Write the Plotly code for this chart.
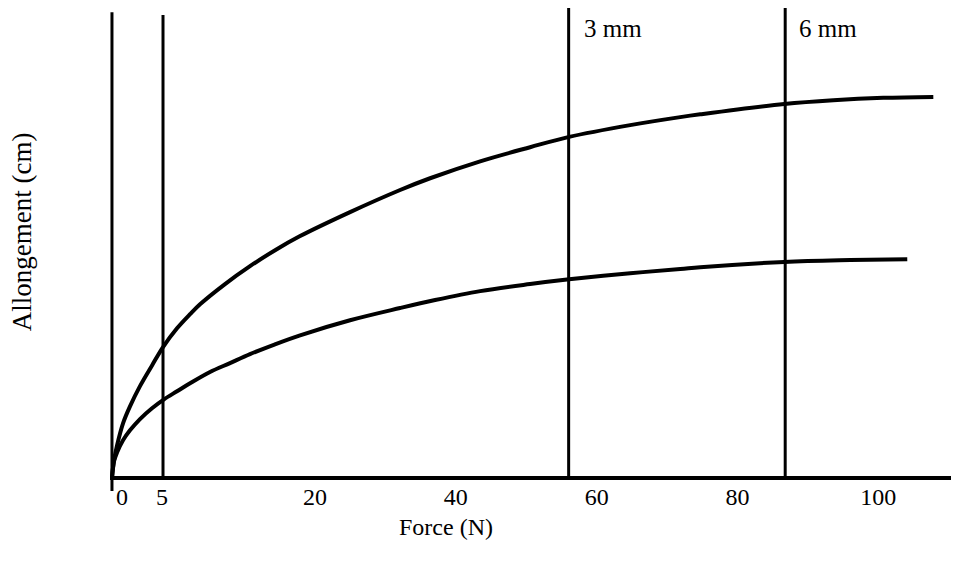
import plotly.graph_objects as go

# Tick labels and their positions along the force axis (schematic, as drawn)
tick_text = ["0", "5", "20", "40", "60", "80", "100"]
tick_pos = [-7.42, -1.74, 20, 40, 60, 80, 100]

# Upper curve – force vs elongation
upper_x = [-8.85, -8.56, -8.13, -7.28, -6.29, -4.87, -3.16, -1.60, 0.39, 2.24, 3.66,
           7.21, 10.76, 14.32, 17.87, 24.97, 32.08, 36.34, 43.45, 50.55, 56.09, 64.76,
           71.87, 74.71, 86.64, 93.61, 100.71, 107.82]
upper_y = [0.0, 0.38, 0.70, 1.17, 1.53, 1.96, 2.40, 2.79, 3.19, 3.49, 3.70,
           4.13, 4.51, 4.85, 5.15, 5.66, 6.13, 6.38, 6.74, 7.04, 7.26, 7.51,
           7.68, 7.74, 7.96, 8.04, 8.09, 8.11]

# Lower curve
lower_x = [-8.85, -8.56, -8.13, -7.28, -6.29, -4.87, -3.16, -1.46, 0.39, 2.24, 5.08,
           7.92, 10.76, 14.32, 17.87, 24.97, 32.08, 37.05, 43.45, 50.55, 56.09, 64.76,
           71.87, 74.71, 86.64, 96.02, 104.12]
lower_y = [0.0, 0.36, 0.55, 0.81, 1.02, 1.26, 1.49, 1.68, 1.85, 2.02, 2.26,
           2.45, 2.64, 2.85, 3.04, 3.36, 3.62, 3.79, 3.98, 4.13, 4.23, 4.36,
           4.45, 4.49, 4.60, 4.64, 4.66]

# Vertical reference lines: axis, "5", "3 mm", "6 mm"
vline_x = [-8.85, -1.60, 56.02, 86.78]
vline_bottom = [-0.27, 0.0, 0.0, 0.0]
vline_top = [9.91, 9.85, 10.0, 10.0]

# Labels on the vertical lines
label_text = ["3 mm", "6 mm"]
label_x = [57.94, 88.47]
label_y = [9.57, 9.57]

FONT = "Liberation Serif, Times New Roman, serif"

fig = go.Figure()

for xv, y0, y1 in zip(vline_x, vline_bottom, vline_top):
    fig.add_trace(go.Scatter(x=[xv, xv], y=[y0, y1], mode="lines",
                             line=dict(color="black", width=3),
                             hoverinfo="skip", showlegend=False))

fig.add_trace(go.Scatter(x=upper_x, y=upper_y, mode="lines",
                         line=dict(color="black", width=4, shape="spline", smoothing=1.0),
                         showlegend=False))
fig.add_trace(go.Scatter(x=lower_x, y=lower_y, mode="lines",
                         line=dict(color="black", width=4, shape="spline", smoothing=1.0),
                         showlegend=False))

for t, xv, yv in zip(label_text, label_x, label_y):
    fig.add_annotation(x=xv, y=yv, text=t, showarrow=False, xanchor="left",
                       yanchor="middle", font=dict(family=FONT, size=25, color="black"))

fig.add_annotation(x=-0.104, y=0.536, xref="paper", yref="paper",
                   text="Allongement (cm)", textangle=-90, showarrow=False,
                   xanchor="center", yanchor="middle",
                   font=dict(family=FONT, size=27, color="black"))
fig.add_annotation(x=0.398, y=-0.0745, xref="paper", yref="paper",
                   text="Force (N)", showarrow=False,
                   xanchor="center", yanchor="middle",
                   font=dict(family=FONT, size=24, color="black"))

fig.update_layout(
    width=951, height=559,
    margin=dict(l=102, r=4, t=0, b=76),
    paper_bgcolor="white", plot_bgcolor="white",
    xaxis=dict(range=[-9.13, 110.9], tickvals=tick_pos, ticktext=tick_text,
               showgrid=False, zeroline=False, showline=False, ticks="",
               ticklabelstandoff=-11,
               tickfont=dict(family=FONT, size=24, color="black")),
    yaxis=dict(range=[-0.27, 10.0], showgrid=False, zeroline=True,
               zerolinecolor="black", zerolinewidth=3.5, showline=False,
               showticklabels=False, ticks=""),
)

fig.write_html("out.html")
